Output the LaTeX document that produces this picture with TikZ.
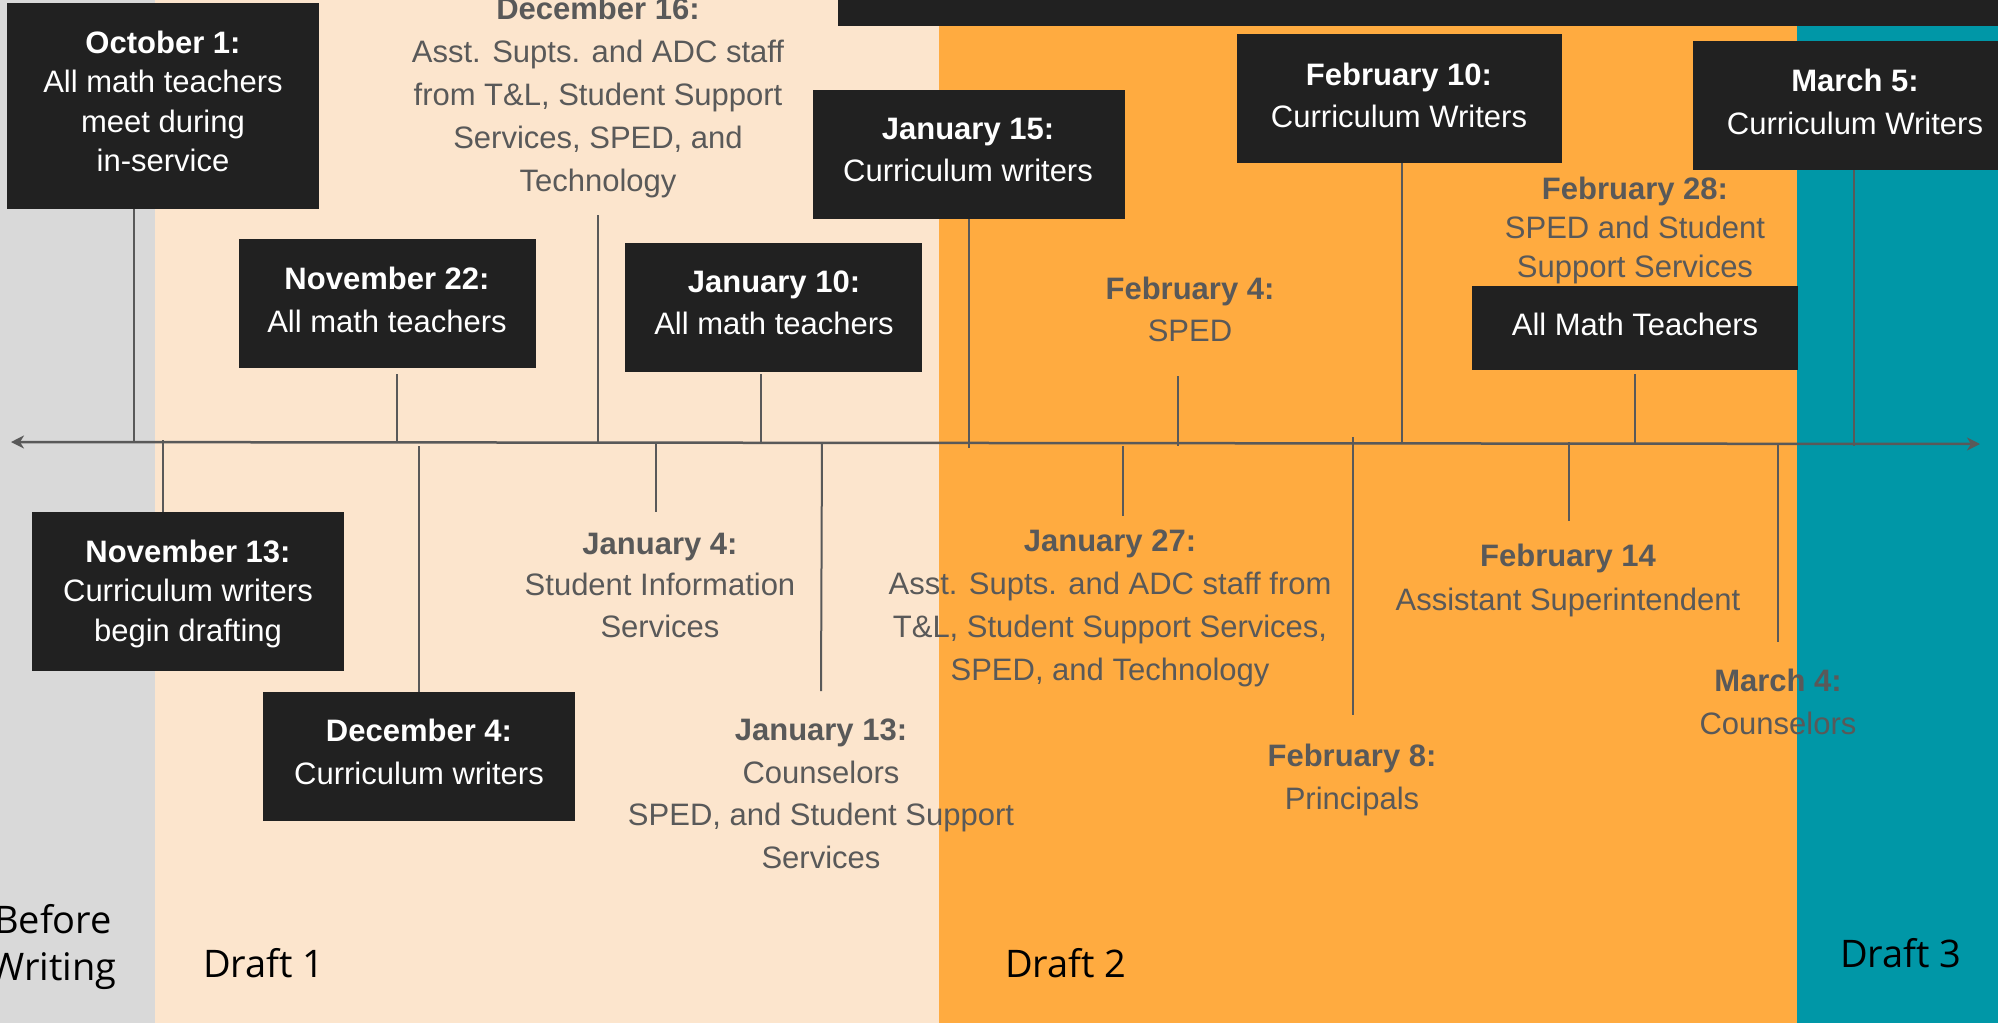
\documentclass[tikz,border=0pt]{standalone}
\usepackage{fontspec}
\setmainfont{Liberation Sans}
\newfontfamily\opensans{Open Sans}
\usetikzlibrary{arrows.meta}
\definecolor{boxblack}{HTML}{212121}
\definecolor{graytxt}{HTML}{595959}
\definecolor{bggray}{HTML}{D9D9D9}
\definecolor{peach}{HTML}{FCE5CD}
\definecolor{orng}{HTML}{FFAB40}
\definecolor{tealc}{HTML}{0097A7}
\tikzset{
  blkbox/.style={fill=boxblack, draw=none, inner sep=0pt, anchor=north west},
  wtxt/.style={text=white, align=center, inner sep=0pt, anchor=north, font=\fontsize{31}{#1}\selectfont},
  gtxt/.style={text=graytxt, align=center, inner sep=0pt, anchor=north, font=\fontsize{31}{#1}\selectfont},
  drafttxt/.style={text=black, inner sep=0pt, font=\opensans\fontsize{38}{47}\selectfont},
  tickline/.style={draw=graytxt, line width=2pt},
  axisline/.style={draw=graytxt, line width=2.5pt, {Stealth[length=13pt,width=13pt,inset=4pt]}-{Stealth[length=13pt,width=13pt,inset=4pt]}}
}
\begin{document}
\begin{tikzpicture}[x=1pt,y=-1pt]
\useasboundingbox (0,0) rectangle (1998,1023);
\clip (0,0) rectangle (1998,1023);
% background bands
\fill[bggray] (0,0) rectangle (155,1023);
\fill[peach] (155,0) rectangle (939,1023);
\fill[orng] (939,0) rectangle (1797,1023);
\fill[tealc] (1797,0) rectangle (1998,1023);
\fill[boxblack] (838,0) rectangle (1998,26);

% axis
\coordinate (axL) at (11,442);
\coordinate (axR) at (1980,444);
\draw[axisline] (axL) -- (axR);

% boxes
\node[blkbox, minimum width=312pt, minimum height=206pt] (oct1box) at (7,3) {};
\node[blkbox, minimum width=297pt, minimum height=129pt] (nov22box) at (239,239) {};
\node[blkbox, minimum width=297pt, minimum height=129pt] (jan10box) at (625,243) {};
\node[blkbox, minimum width=312pt, minimum height=129pt] (jan15box) at (813,90) {};
\node[blkbox, minimum width=325pt, minimum height=129pt] (feb10box) at (1237,34) {};
\node[blkbox, minimum width=310pt, minimum height=129pt] (mar5box) at (1693,41) {};
\node[blkbox, minimum width=326pt, minimum height=84pt] (allmathbox) at (1472,286) {};
\node[blkbox, minimum width=312pt, minimum height=159pt] (nov13box) at (32,512) {};
\node[blkbox, minimum width=312pt, minimum height=129pt] (dec4box) at (263,692) {};

% axis tick coordinates
\coordinate (tOct1) at (134,442);
\coordinate (tNov22) at (397,442);
\coordinate (tDec16) at (598,442);
\coordinate (tJan10) at (761,442);
\coordinate (tJan15) at (969,448);
\coordinate (tFeb4) at (1178,446);
\coordinate (tFeb10) at (1402,442);
\coordinate (tFeb28) at (1635,444);
\coordinate (tMar5) at (1854,446);
\coordinate (tNov13) at (163,440);
\coordinate (tDec4) at (419,446);
\coordinate (tJan4) at (656,442);
\coordinate (tJan13) at (822,442);
\coordinate (tJan27) at (1123,446);
\coordinate (tFeb8) at (1353,437);
\coordinate (tFeb14) at (1569,442);
\coordinate (tMar4) at (1778,444);
% free ends of ticks under/over plain texts
\coordinate (eDec16) at (598,215);
\coordinate (eFeb4) at (1178,376);
\coordinate (eJan4) at (656,512);
\coordinate (eJan13) at (821,691);
\coordinate (eJan27) at (1123,516);
\coordinate (eFeb8) at (1353,715);
\coordinate (eFeb14) at (1569,521);
\coordinate (eMar4) at (1778,642);

% ticks
\draw[tickline] (oct1box.south -| tOct1) -- (tOct1);
\draw[tickline] ([yshift=-6pt]nov22box.south -| tNov22) -- (tNov22);
\draw[tickline] (eDec16) -- (tDec16);
\draw[tickline] ([yshift=-2pt]jan10box.south -| tJan10) -- (tJan10);
\draw[tickline] (jan15box.south -| tJan15) -- (tJan15);
\draw[tickline] (eFeb4) -- (tFeb4);
\draw[tickline] (feb10box.south -| tFeb10) -- (tFeb10);
\draw[tickline] ([yshift=-4pt]allmathbox.south -| tFeb28) -- (tFeb28);
\draw[tickline] (mar5box.south -| tMar5) -- (tMar5);
\draw[tickline] (tNov13) -- (nov13box.north -| tNov13);
\draw[tickline] (tDec4) -- (dec4box.north -| tDec4);
\draw[tickline] (tJan4) -- (eJan4);
\draw[tickline] (tJan13) -- (eJan13);
\draw[tickline] (tJan27) -- (eJan27);
\draw[tickline] (tFeb8) -- (eFeb8);
\draw[tickline] (tFeb14) -- (eFeb14);
\draw[tickline] (tMar4) -- (eMar4);

% texts in boxes
\node[wtxt=39.5] (oct1) at (163,30.5) {\textbf{October 1:}\\All math teachers\\meet during\\in-service};
\node[wtxt=43] (nov22) at (387,266.5) {\textbf{November 22:}\\All math teachers};
\node[wtxt=42] (jan10) at (774,270.5) {\textbf{January 10:}\\All math teachers};
\node[wtxt=42] (jan15) at (968,117.5) {\textbf{January 15:}\\Curriculum writers};
\node[wtxt=42] (feb10) at (1399,62.5) {\textbf{February 10:}\\Curriculum Writers};
\node[wtxt=43] (mar5) at (1855,68.5) {\textbf{March 5:}\\Curriculum Writers};
\node[wtxt=42] (allmath) at (1635,312.5) {All Math Teachers};
\node[wtxt=39.5] (nov13) at (188,539.5) {\textbf{November 13:}\\Curriculum writers\\begin drafting};
\node[wtxt=43] (dec4) at (419,718.5) {\textbf{December 4:}\\Curriculum writers};

% plain gray texts
\node[gtxt=43] (dec16) at (598,-3.5) {\textbf{December 16:}\\Asst. Supts. and ADC staff\\from T\&L, Student Support\\Services, SPED, and\\Technology};
\node[gtxt=39] (feb28) at (1635,176.5) {\textbf{February 28:}\\SPED and Student\\Support Services};
\node[gtxt=42] (feb4) at (1190,276.5) {\textbf{February 4:}\\SPED};
\node[gtxt=41.5] (jan4) at (660,532.5) {\textbf{January 4:}\\Student Information\\Services};
\node[gtxt=42.7] (jan13) at (821,718.5) {\textbf{January 13:}\\Counselors\\SPED, and Student Support\\Services};
\node[gtxt=43] (jan27) at (1110,529.5) {\textbf{January 27:}\\Asst. Supts. and ADC staff from\\T\&L, Student Support Services,\\SPED, and Technology};
\node[gtxt=43] (feb8) at (1352,743.5) {\textbf{February 8:}\\Principals};
\node[gtxt=44] (feb14) at (1568,543.5) {\textbf{February 14}\\Assistant Superintendent};
\node[gtxt=43] (mar4) at (1778,668.5) {\textbf{March 4:}\\Counselors};

% phase labels
\node[drafttxt, align=center, anchor=north] (before) at (53,904) {Before\\Writing};
\node[drafttxt, anchor=base west] (draft1) at (203,977) {Draft 1};
\node[drafttxt, anchor=base west] (draft2) at (1005,977) {Draft 2};
\node[drafttxt, anchor=base west] (draft3) at (1840,967) {Draft 3};
\end{tikzpicture}
\end{document}
